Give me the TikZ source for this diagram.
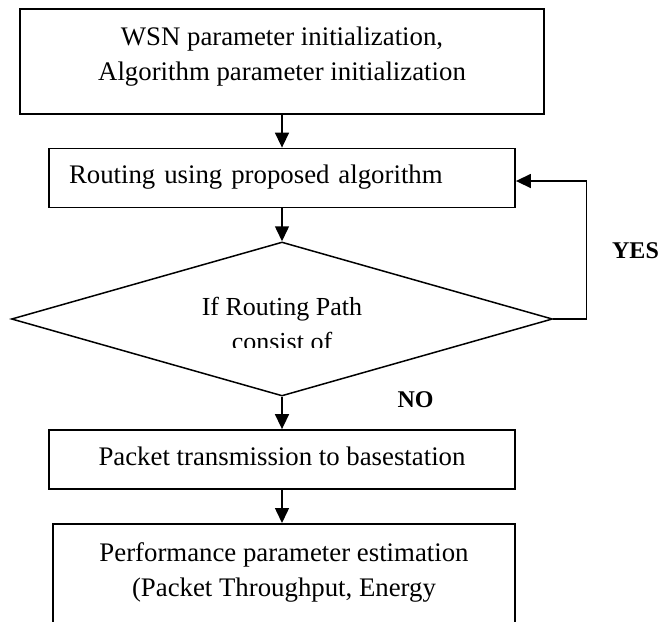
\documentclass[tikz,border=0pt]{standalone}
\usepackage{fontspec}
\setmainfont{Liberation Serif}
\usetikzlibrary{arrows.meta,shapes.geometric}

\begin{document}
\begin{tikzpicture}
  [x=0.5pt,y=-0.5pt,
   box/.style={draw,line width=0.9pt,align=center,
     font=\fontsize{13.4pt}{17.5pt}\selectfont},
   sbox/.style={box,minimum width=233pt,minimum height=29.5pt,
     text height=9pt,text depth=3.5pt,inner sep=0pt},
   lbl/.style={font=\bfseries\fontsize{12pt}{14pt}\selectfont},
   arr/.style={line width=0.75pt,-{Triangle[length=7.5pt,width=7pt]}}]
  \useasboundingbox (0,0) rectangle (662,621);
  \clip (0,0) rectangle (662,621);
  \node[box,anchor=north,minimum width=262pt,inner xsep=0pt,inner ysep=8.95pt,
    text depth=8.05pt] (ninit) at (282,8)
    {WSN parameter initialization,\\Algorithm parameter initialization};
  \node[sbox,text width=213pt,align=left] (nroute) at (282,178)
    {Routing using proposed algorithm};
  \node[draw,diamond,line width=0.75pt,minimum width=270.5pt,minimum height=77pt,
    inner sep=0pt] (ncheck) at (282,319) {};
  \begin{scope}
    \clip (0,290) rectangle (662,347);
    \node[anchor=north,inner sep=0pt,align=center,
      font=\fontsize{13pt}{17.5pt}\selectfont] (tcheck) at (282,297.2)
      {If Routing Path\\consist of};
  \end{scope}
  \node[sbox] (nsend) at (282,459.5) {Packet transmission to basestation};
  \node[box,anchor=north,minimum width=231pt,inner ysep=9.45pt,text depth=60pt]
    (nperf) at (284,523)
    {Performance parameter estimation\\(Packet Throughput, Energy};
  \node[lbl] (nyes) at (635.5,251) {YES};
  \node[lbl] (nno) at (415.5,400) {NO};
  \foreach \from/\to in {ninit/nroute,nroute/ncheck,ncheck/nsend,nsend/nperf}
    \draw[arr] (\from.south) -- (\from.south |- \to.north);
  \draw[arr] (ncheck.east) -- ++(33,0) |- ([yshift=-1.5pt]nroute.east);
\end{tikzpicture}
\end{document}
